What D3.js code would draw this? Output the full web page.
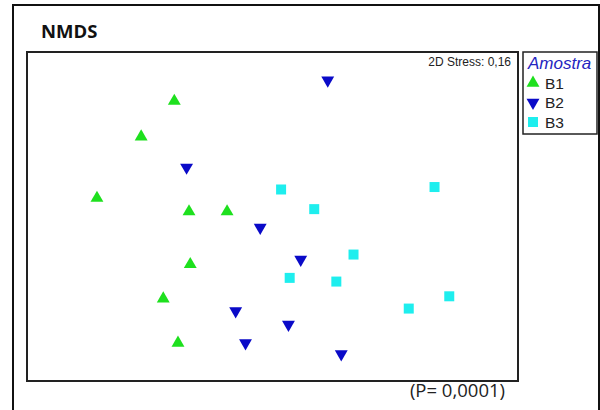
<!DOCTYPE html>
<html>
<head>
<meta charset="utf-8">
<script src="https://cdn.jsdelivr.net/npm/d3@7"></script>
<style>
body { margin: 0; background: #fff; }
svg { display: block; }
</style>
</head>
<body>
<svg id="nmds" width="600" height="410"></svg>
<script>
// DATA
// NMDS coordinates, one array per group.
var groups = ['B1', 'B2', 'B3'];
var b1_x = [-0.80, -1.07, -1.43, -0.68, -0.37, -0.67, -0.89, -0.77];
var b1_y = [0.94, 0.65, 0.15, 0.04, 0.04, -0.39, -0.67, -1.03];
var b2_x = [0.45, -0.70, -0.10, 0.23, -0.30, 0.13, -0.22, 0.56];
var b2_y = [1.11, 0.40, -0.09, -0.35, -0.77, -0.88, -1.03, -1.12];
var b3_x = [0.07, 0.34, 1.32, 0.66, 0.14, 0.52, 1.44, 1.11];
var b3_y = [0.22, 0.06, 0.24, -0.31, -0.50, -0.53, -0.65, -0.75];
var stress_label = '2D Stress: 0,16';
var p_label = '(P= 0,0001)';

// CHART
var chrt = {
    config: {
        left: 27, right: 518, top: 52, bottom: 381,
        colors: { 'B1': '#1ee01e', 'B2': '#0a0ac8', 'B3': '#1eeeee' }
    },
    symbol: function(g) {
        // B1 up triangle, B2 down triangle, B3 square
        if ( g == 'B3' ) return d3.symbol().type(d3.symbolSquare).size(100)();
        var s = d3.symbol().type(d3.symbolTriangle).size(72)();
        return s;
    },
    build_chart: function() {
        var c = this.config;
        var svg = d3.select('svg#nmds');

        // outer frame, runs off the bottom of the picture
        svg.append('path')
            .attr('d', 'M13,420 V5 H599 V420')
            .attr('fill', 'none')
            .attr('stroke', '#111')
            .attr('stroke-width', 2);

        svg.append('text')
            .attr('x', 41).attr('y', 38)
            .attr('font-family', 'Open Sans, sans-serif')
            .attr('font-weight', 'bold')
            .attr('font-size', 18.5)
            .attr('fill', '#111')
            .text('NMDS');

        var x = d3.scaleLinear().domain([-2, 2]).range([c.left, c.right]);
        var y = d3.scaleLinear().domain([-1.34, 1.34]).range([c.bottom, c.top]);

        svg.append('rect')
            .attr('x', c.left).attr('y', c.top)
            .attr('width', c.right - c.left)
            .attr('height', c.bottom - c.top)
            .attr('fill', 'none')
            .attr('stroke', '#222')
            .attr('stroke-width', 2);

        svg.append('text')
            .attr('x', c.right - 7).attr('y', 66)
            .attr('text-anchor', 'end')
            .attr('font-family', 'Liberation Sans, Arial, sans-serif')
            .attr('font-size', 12)
            .attr('fill', '#222')
            .text(stress_label);

        var data = [];
        var cols = { 'B1': [b1_x, b1_y], 'B2': [b2_x, b2_y], 'B3': [b3_x, b3_y] };
        groups.forEach(function(g) {
            cols[g][0].forEach(function(v, i) {
                data.push({ group: g, x: v, y: cols[g][1][i] });
            });
        });

        svg.append('g').selectAll('path')
            .data(data)
            .enter().append('path')
                .attr('d', function(d) { return chrt.symbol(d.group); })
                .attr('transform', function(d) {
                    var t = 'translate(' + x(d.x) + ',' + y(d.y) + ')';
                    if ( d.group == 'B2' ) t += ' rotate(180)';
                    return t;
                })
                .attr('fill', function(d) { return c.colors[d.group]; });

        // LEGEND
        var lg = svg.append('g');
        lg.append('rect')
            .attr('x', 523).attr('y', 52)
            .attr('width', 74).attr('height', 82)
            .attr('fill', '#fff')
            .attr('stroke', '#222')
            .attr('stroke-width', 1.5);
        lg.append('text')
            .attr('x', 528).attr('y', 69)
            .attr('font-family', 'Liberation Sans, Arial, sans-serif')
            .attr('font-style', 'italic')
            .attr('font-size', 17)
            .attr('fill', '#2424c0')
            .text('Amostra');
        groups.forEach(function(g, i) {
            var yy = 83 + i * 19.5;
            lg.append('path')
                .attr('d', chrt.symbol(g))
                .attr('transform', 'translate(533,' + yy + ')' + (g == 'B2' ? ' rotate(180)' : ''))
                .attr('fill', c.colors[g]);
            lg.append('text')
                .attr('x', 545).attr('y', yy + 5.5)
                .attr('font-family', 'Liberation Sans, Arial, sans-serif')
                .attr('font-size', 15.5)
                .attr('fill', '#222')
                .text(g);
        });

        svg.append('text')
            .attr('x', 505).attr('y', 397)
            .attr('text-anchor', 'end')
            .attr('font-family', 'Open Sans, sans-serif')
            .attr('font-size', 18.5)
            .attr('fill', '#222')
            .text(p_label);
    }
};

chrt.build_chart();
</script>
</body>
</html>
